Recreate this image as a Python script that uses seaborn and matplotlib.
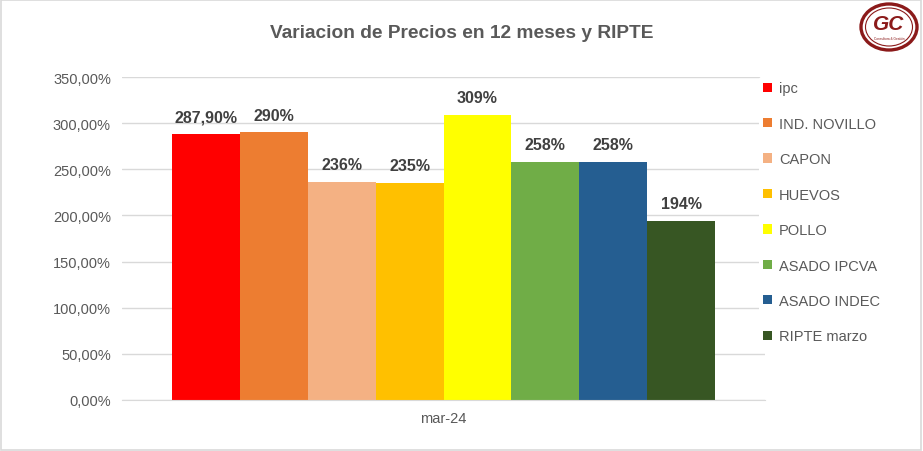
import seaborn as sns
import matplotlib.pyplot as plt
import pandas as pd
from matplotlib.patches import Ellipse
from matplotlib.ticker import FuncFormatter

categories = ["ipc", "IND. NOVILLO", "CAPON", "HUEVOS", "POLLO",
              "ASADO IPCVA", "ASADO INDEC", "RIPTE marzo"]
values = [287.90, 290, 236, 235, 309, 258, 258, 194]
value_labels = ["287,90%", "290%", "236%", "235%", "309%", "258%", "258%", "194%"]
colors = ["#FF0000", "#ED7D31", "#F4B183", "#FFC000", "#FFFF00",
          "#70AD47", "#255E91", "#375623"]
period = "mar-24"
title = "Variacion de Precios en 12 meses y RIPTE"

df = pd.DataFrame({"periodo": [period] * len(categories),
                   "serie": categories, "valor": values})

sns.set_style("white")
plt.rcParams["font.family"] = ["Liberation Sans", "DejaVu Sans"]

fig = plt.figure(figsize=(9.23, 4.52), dpi=100)
ax = fig.add_axes([122 / 923, 51 / 452, 643 / 923, 323 / 452])

sns.barplot(data=df, x="periodo", y="valor", hue="serie", hue_order=categories,
            palette=colors, width=0.845, saturation=1, gap=0, ax=ax,
            edgecolor="none", linewidth=0)

ax.set_xlim(-0.5, 0.5)
ax.set_ylim(0, 350)
ax.set_yticks(range(0, 351, 50))
ax.yaxis.set_major_formatter(FuncFormatter(lambda v, p: f"{v:.2f}".replace(".", ",") + "%"))
ax.grid(axis="y", color="#D9D9D9", linewidth=1)
ax.set_axisbelow(True)
for s in ["top", "right", "left"]:
    ax.spines[s].set_visible(False)
ax.spines["bottom"].set_color("#D9D9D9")
ax.tick_params(axis="both", length=0, labelsize=10.5, colors="#595959", pad=8)
ax.set_xlabel("")
ax.set_ylabel("")

for cont, lab in zip(ax.containers, value_labels):
    ax.bar_label(cont, labels=[lab], padding=7, fontsize=11.5, fontweight="bold",
                 color="#404040")

leg = ax.legend(loc="upper left", bbox_to_anchor=(0.99, 1.0), frameon=True,
                facecolor="white", edgecolor="none", framealpha=1,
                fontsize=10.5, labelspacing=1.47, handlelength=0.6,
                handleheight=0.6, handletextpad=0.5, borderpad=0.3,
                borderaxespad=0)
for t in leg.get_texts():
    t.set_color("#595959")

fig.text(0.5, 1 - 33 / 452, title, ha="center", va="center", fontsize=13.8,
         fontweight="bold", color="#595959")

# logo
lax = fig.add_axes([858 / 923, 1 - 54 / 452, 64 / 923, 52 / 452])
lax.set_xlim(0, 64)
lax.set_ylim(0, 52)
lax.axis("off")
lax.add_patch(Ellipse((31, 26), 56, 46, fill=False, edgecolor="#8B1A1A", linewidth=2.4))
lax.add_patch(Ellipse((31, 26), 47, 38, fill=False, edgecolor="#8B1A1A", linewidth=0.8))
lax.text(31, 29, "GC", ha="center", va="center", fontsize=15, fontweight="bold",
         style="italic", color="#8B1A1A")
lax.text(31, 15, "Consultora & Gestión", ha="center", va="center", fontsize=2.3,
         color="#8B1A1A")

fig.patches.append(plt.Rectangle((0.001, 0.002), 0.997, 0.995, transform=fig.transFigure,
                                 fill=False, edgecolor="#D9D9D9", linewidth=1.2))

fig.savefig("out.png", dpi=100, facecolor="white")
